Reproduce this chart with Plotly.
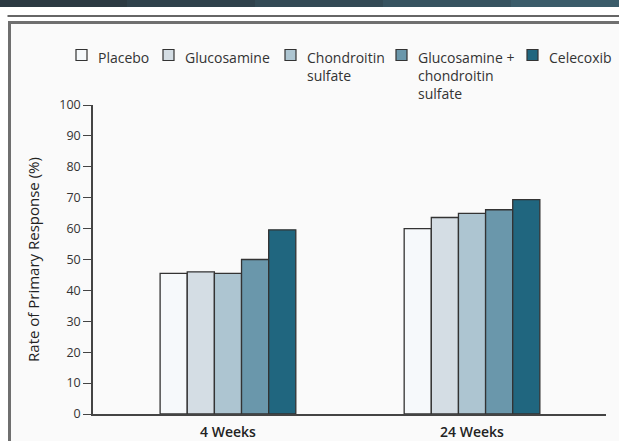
import plotly.graph_objects as go

categories = ["4 Weeks", "24 Weeks"]
series_names = ["Placebo", "Glucosamine", "Chondroitin<br>sulfate",
                "Glucosamine +<br>chondroitin<br>sulfate", "Celecoxib"]
placebo = [45.5, 60.0]
glucosamine = [46.0, 63.6]
chondroitin = [45.5, 64.9]
combination = [50.0, 66.1]
celecoxib = [59.6, 69.4]
series_values = [placebo, glucosamine, chondroitin, combination, celecoxib]
colors = ["#f6f9fb", "#d4dde4", "#adc5d1", "#6a97ab", "#20667f"]
y_ticks = list(range(0, 101, 10))

FONT = "Open Sans, DejaVu Sans, sans-serif"
OUTLINE = "#333333"

fig = go.Figure()
for name, vals, col in zip(series_names, series_values, colors):
    fig.add_trace(go.Bar(
        x=categories, y=vals, name=name, showlegend=False,
        marker=dict(color=col, line=dict(color=OUTLINE, width=1.3)),
    ))

# pixel -> paper helpers (plot area: x 93..606, y 105..414)
L, R, T, B = 93, 606, 105, 414
def px(x):
    return (x - L) / (R - L)
def py(y):
    return (B - y) / (B - T)

shapes = []
annotations = []
# frame box
shapes.append(dict(type="rect", xref="paper", yref="paper", layer="below",
                   x0=px(9.5), x1=px(640), y0=py(470), y1=py(22.5),
                   line=dict(color="#6f6f6f", width=3), fillcolor="#fafafa"))
# top dark band (gradient imitation)
band_cols = ["#2c3a42", "#2f414b", "#334a55", "#375360", "#3b5c6a"]
seg = 640 / len(band_cols)
for i, c in enumerate(band_cols):
    shapes.append(dict(type="rect", xref="paper", yref="paper", layer="below",
                       x0=px(i * seg - 1), x1=px((i + 1) * seg), y0=py(7), y1=py(-2),
                       line=dict(width=0), fillcolor=c))
# thin rule under band
shapes.append(dict(type="line", xref="paper", yref="paper", layer="below",
                   x0=px(7.5), x1=px(640), y0=py(16), y1=py(16),
                   line=dict(color="#333333", width=1.5)))

# manual legend (key squares + labels)
legend_key_left = [76, 163, 285, 396, 527]
for name, col, kx in zip(series_names, colors, legend_key_left):
    shapes.append(dict(type="rect", xref="paper", yref="paper",
                       x0=px(kx), x1=px(kx + 11), y0=py(60.5), y1=py(49.5),
                       line=dict(color=OUTLINE, width=1.2), fillcolor=col))
    annotations.append(dict(text=name, xref="paper", yref="paper",
                            x=px(kx + 20), y=py(45.5), xanchor="left", yanchor="top",
                            align="left", showarrow=False,
                            font=dict(family=FONT, size=14, color="#333333")))

fig.update_layout(
    width=619, height=441,
    margin=dict(l=L, r=619 - R, t=T, b=441 - B, pad=0, autoexpand=False),
    paper_bgcolor="#ffffff",
    plot_bgcolor="rgba(0,0,0,0)",
    barmode="group",
    bargap=0.444,
    bargroupgap=0,
    font=dict(family=FONT, size=12, color="#333333"),
    shapes=shapes,
    annotations=annotations,
    showlegend=False,
    xaxis=dict(range=[-0.553, 1.549], showline=True, linecolor="#444444", linewidth=1.5,
               ticks="", showgrid=False, zeroline=False, ticklabelstandoff=4,
               tickfont=dict(family=FONT, size=14, color="#222222", weight=600)),
    yaxis=dict(range=[0, 100], tickvals=y_ticks, ticks="outside", ticklen=8, tickwidth=1.3,
               tickcolor="#444444", showline=True, linecolor="#444444", linewidth=1.5,
               showgrid=False, zeroline=False,
               tickfont=dict(family=FONT, size=12.5, color="#333333"),
               title=dict(text="Rate of Primary Response (%)", standoff=16,
                          font=dict(family=FONT, size=15, color="#222222"))),
)

fig.write_html("out.html", config={"displayModeBar": False},
               post_script="document.body.style.margin='0';document.body.style.padding='0';")
